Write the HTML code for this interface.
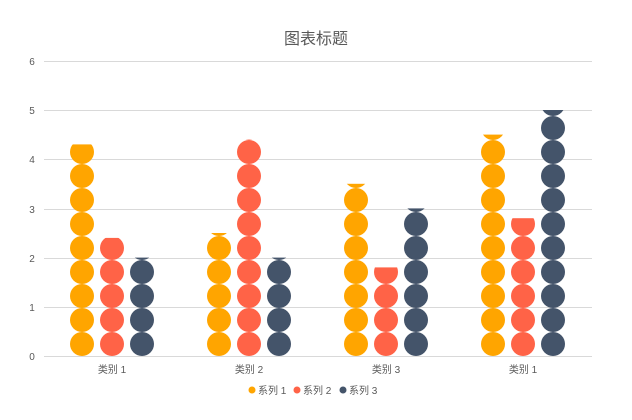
<!DOCTYPE html>
<html><head><meta charset="utf-8"><style>
body{margin:0;background:#fff}
svg{display:block;font-family:"Liberation Sans","Noto Sans CJK SC",sans-serif}
</style></head><body>
<svg width="632" height="420" viewBox="0 0 632 420" xmlns="http://www.w3.org/2000/svg">
<defs>
<pattern id="p1" patternUnits="userSpaceOnUse" x="-12" y="356" width="24" height="24"><circle cx="12" cy="12" r="12" fill="#FFA500"/></pattern>
<pattern id="p2" patternUnits="userSpaceOnUse" x="-12" y="356" width="24" height="24"><circle cx="12" cy="12" r="12" fill="#FF6347"/></pattern>
<pattern id="p3" patternUnits="userSpaceOnUse" x="-12" y="356" width="24" height="24"><circle cx="12" cy="12" r="12" fill="#44546A"/></pattern>
</defs>
<rect width="632" height="420" fill="#fff"/>
<text x="316" y="44" font-size="16" fill="#595959" text-anchor="middle">图表标题</text>
<g stroke="#d9d9d9" stroke-width="1">
<line x1="44" x2="592" y1="61.5" y2="61.5"/>
<line x1="44" x2="592" y1="110.5" y2="110.5"/>
<line x1="44" x2="592" y1="159.5" y2="159.5"/>
<line x1="44" x2="592" y1="209.5" y2="209.5"/>
<line x1="44" x2="592" y1="258.5" y2="258.5"/>
<line x1="44" x2="592" y1="307.5" y2="307.5"/>
<line x1="44" x2="592" y1="356.5" y2="356.5"/>
</g>
<g font-size="10" fill="#595959" text-anchor="middle">
<text x="32" y="65">6</text><text x="32" y="114">5</text><text x="32" y="163">4</text>
<text x="32" y="213">3</text><text x="32" y="262">2</text><text x="32" y="311">1</text><text x="32" y="360">0</text>
<text x="112" y="373">类别 1</text><text x="249" y="373">类别 2</text>
<text x="386" y="373">类别 3</text><text x="523" y="373">类别 1</text>
</g>
<g transform="translate(82,0)"><rect x="-12" y="144.4" width="24" height="211.6" fill="url(#p1)"/></g>
<g transform="translate(112,0)"><rect x="-12" y="237.9" width="24" height="118.1" fill="url(#p2)"/></g>
<g transform="translate(142,0)"><rect x="-12" y="257.6" width="24" height="98.4" fill="url(#p3)"/></g>
<g transform="translate(219,0)"><rect x="-12" y="233" width="24" height="123" fill="url(#p1)"/></g>
<g transform="translate(249,0)"><rect x="-12" y="139.5" width="24" height="216.5" fill="url(#p2)"/></g>
<g transform="translate(279,0)"><rect x="-12" y="257.6" width="24" height="98.4" fill="url(#p3)"/></g>
<g transform="translate(356,0)"><rect x="-12" y="183.8" width="24" height="172.2" fill="url(#p1)"/></g>
<g transform="translate(386,0)"><rect x="-12" y="267.4" width="24" height="88.6" fill="url(#p2)"/></g>
<g transform="translate(416,0)"><rect x="-12" y="208.4" width="24" height="147.6" fill="url(#p3)"/></g>
<g transform="translate(493,0)"><rect x="-12" y="134.6" width="24" height="221.4" fill="url(#p1)"/></g>
<g transform="translate(523,0)"><rect x="-12" y="218.2" width="24" height="137.8" fill="url(#p2)"/></g>
<g transform="translate(553,0)"><rect x="-12" y="110" width="24" height="246" fill="url(#p3)"/></g>
<g font-size="10" fill="#595959">
<circle cx="252" cy="390" r="3.5" fill="#FFA500"/><text x="258" y="394">系列 1</text>
<circle cx="297" cy="390" r="3.5" fill="#FF6347"/><text x="303" y="394">系列 2</text>
<circle cx="343" cy="390" r="3.5" fill="#44546A"/><text x="349" y="394">系列 3</text>
</g>
</svg>
</body></html>
